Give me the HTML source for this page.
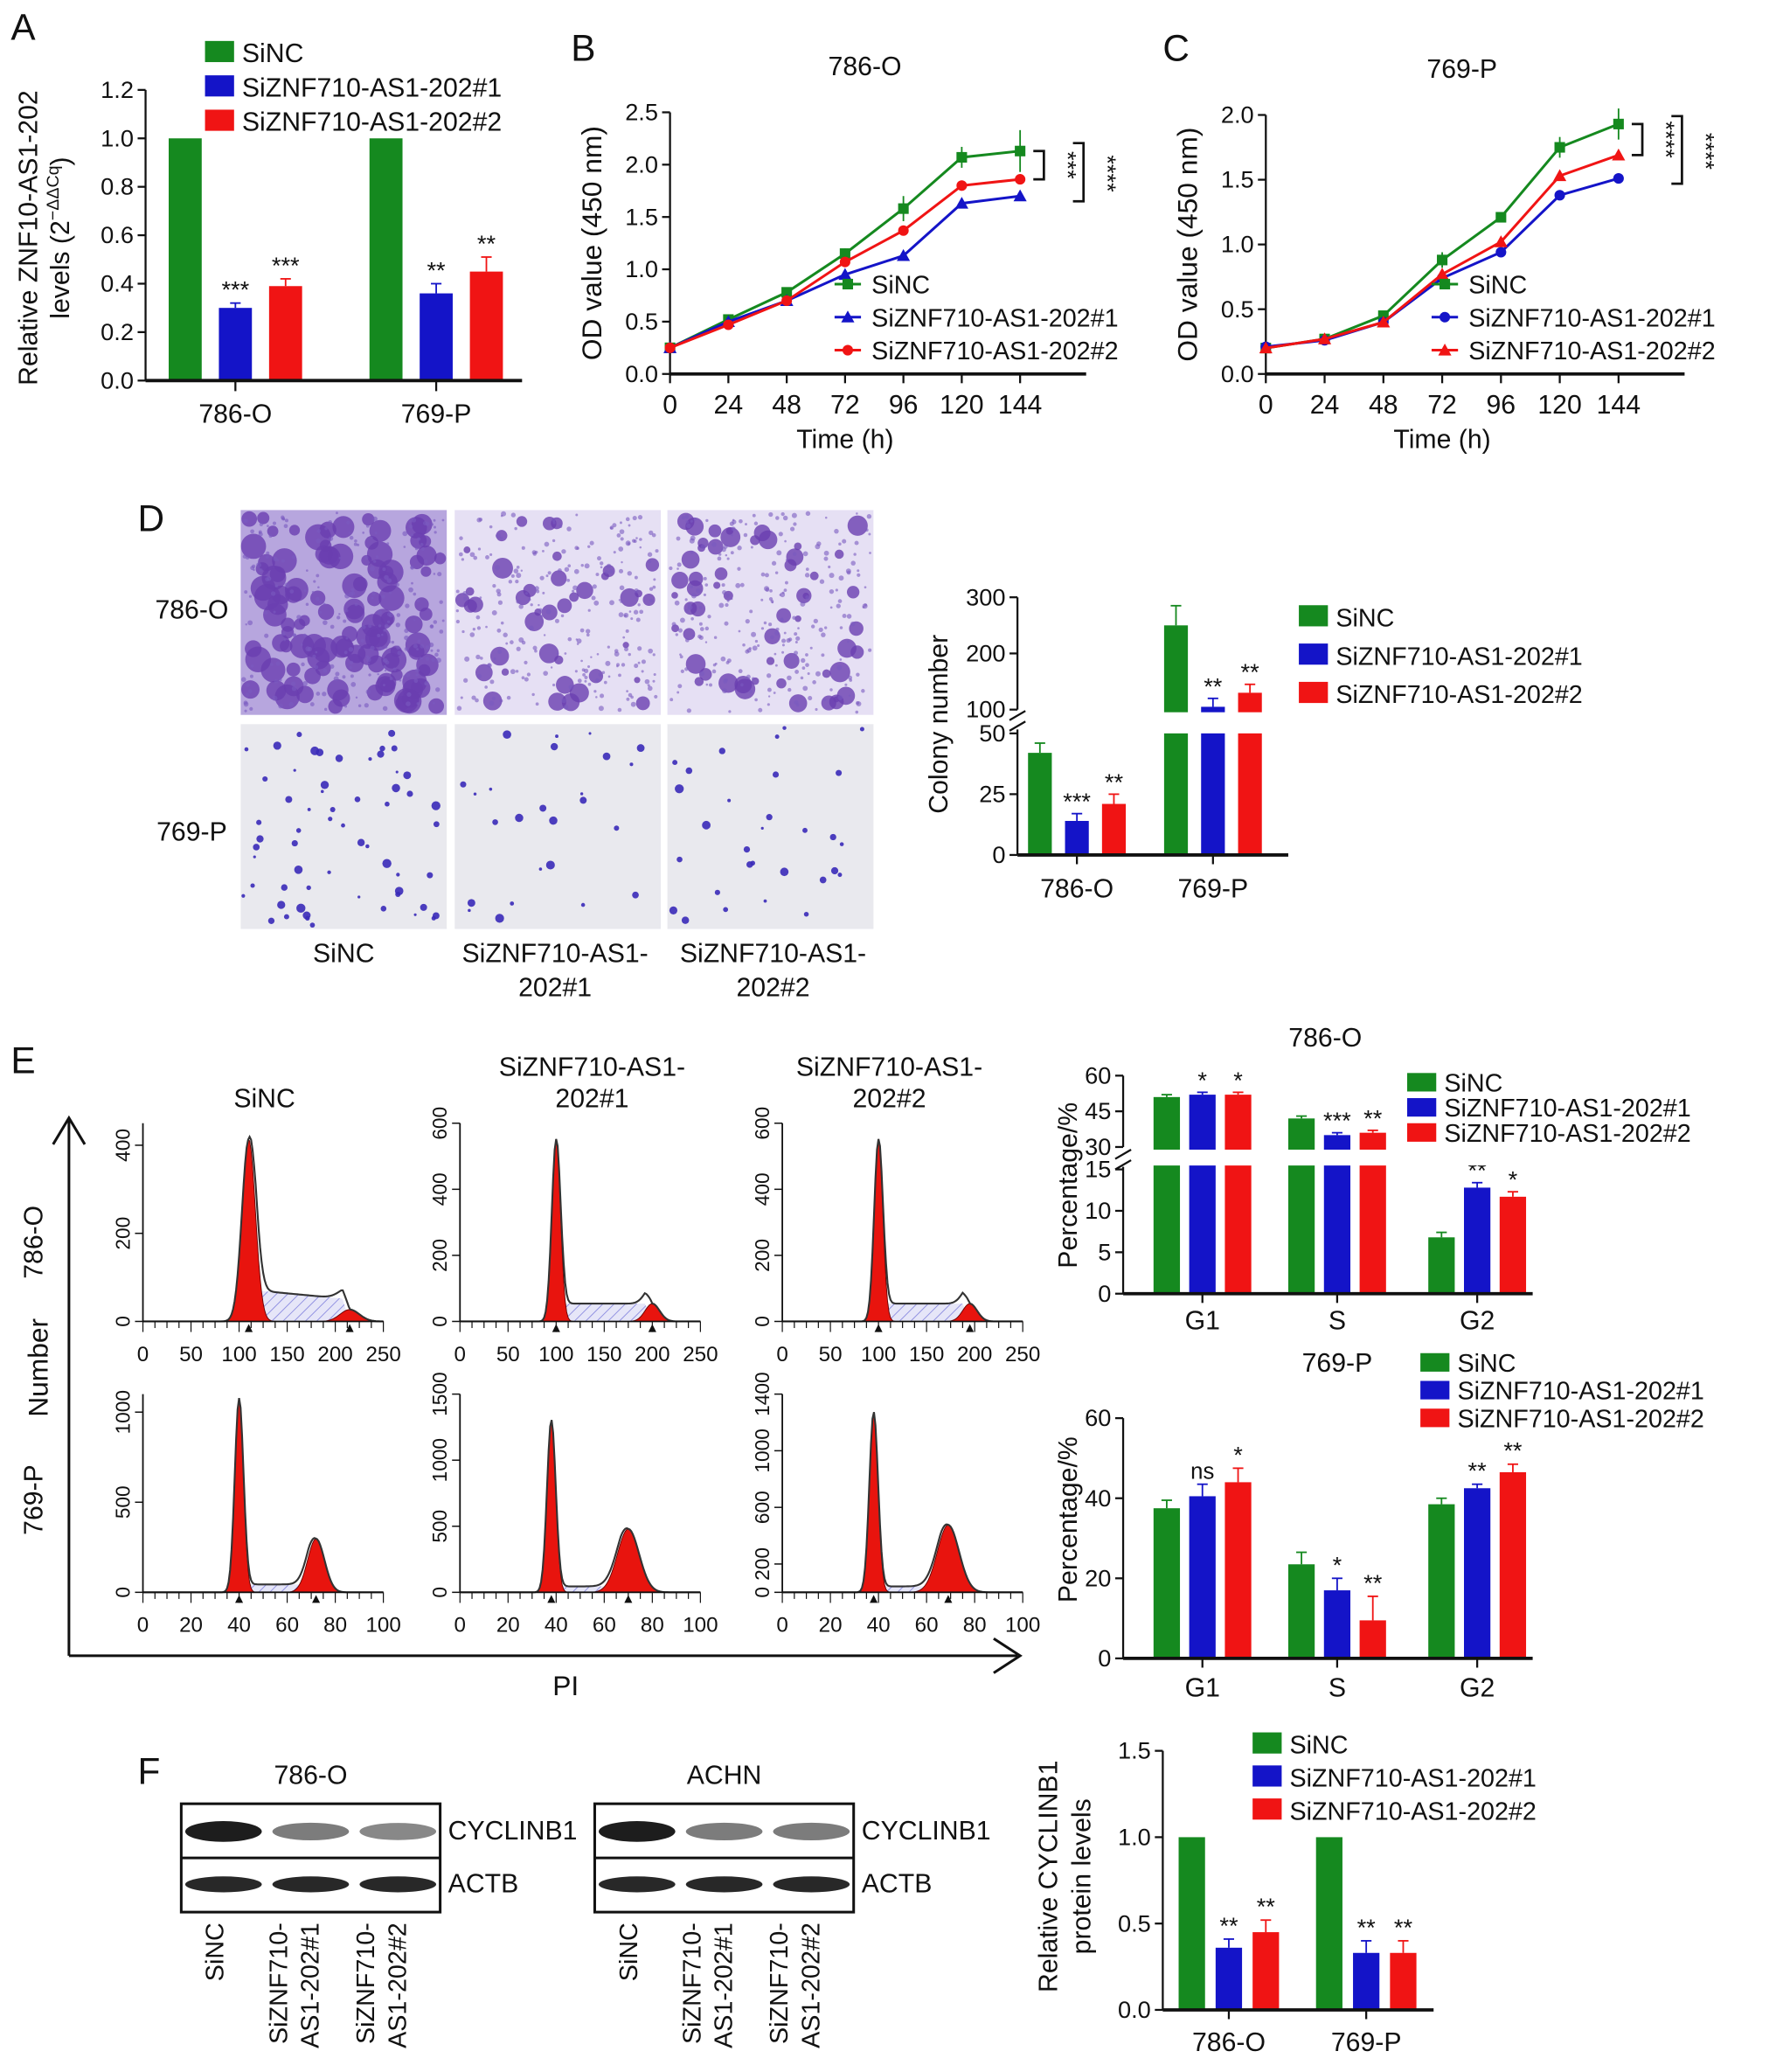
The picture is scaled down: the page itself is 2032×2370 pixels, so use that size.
<!DOCTYPE html>
<html><head><meta charset="utf-8"><style>
html,body{margin:0;padding:0;background:#fff}
svg{display:block;font-family:"Liberation Sans",Arial,sans-serif}
</style></head><body>
<svg id="fig" width="2032" height="2370" viewBox="0 0 1344 1568" xmlns="http://www.w3.org/2000/svg">
<defs>
<pattern id="hatch" width="6" height="6" patternUnits="userSpaceOnUse" patternTransform="rotate(45)"><rect width="6" height="6" fill="#e6e6f8"/><line x1="0" y1="0" x2="0" y2="6" stroke="#8c8ce0" stroke-width="1.2"/></pattern>
</defs>
<g id="root"></g>
</svg>
<script>
// ---------- data ----------
const groupsA=["786-O","769-P"];
const siNC_A=[1.0,1.0], si1_A=[0.30,0.36], si2_A=[0.39,0.45];
const errA1=[0.02,0.04], errA2=[0.03,0.06];
const starsA1=["***","**"], starsA2=["***","**"];
const times=[0,24,48,72,96,120,144];
const B_nc=[0.25,0.52,0.78,1.15,1.58,2.07,2.13];
const B_s1=[0.25,0.50,0.70,0.95,1.13,1.63,1.70];
const B_s2=[0.25,0.47,0.70,1.07,1.37,1.80,1.86];
const B_err=[0.02,0.03,0.03,0.05,0.12,0.1,0.2];
const C_nc=[0.20,0.27,0.45,0.88,1.21,1.75,1.93];
const C_s1=[0.21,0.26,0.40,0.74,0.94,1.38,1.51];
const C_s2=[0.20,0.27,0.40,0.77,1.02,1.53,1.69];
const C_err=[0.02,0.02,0.02,0.06,0.03,0.08,0.12];
const D_nc=[42,250], D_s1=[14,105], D_s2=[21,130];
const D_err1=[4,35], D_err2=[3,15];
const starsD1=["***","**"], starsD2=["**","**"];
const phases=["G1","S","G2"];
const E1_nc=[51,42,6.8], E1_s1=[52,35,12.8], E1_s2=[52,36,11.7];
const E1_stars1=["*","***","**"], E1_stars2=["*","**","*"];
const E2_nc=[37.5,23.5,38.5], E2_s1=[40.5,17,42.5], E2_s2=[44,9.5,46.5];
const E2_err=[2,3,1.5];
const E2_stars1=["ns","*","**"], E2_stars2=["*","**","**"];
const F_nc=[1,1], F_s1=[0.36,0.33], F_s2=[0.45,0.33];
const F_err=[0.05,0.07];
const F_stars1=["**","**"], F_stars2=["**","**"];
const G="#15891f", BL="#1414c8", R="#f01414";
// ---------- helpers ----------
const NS="http://www.w3.org/2000/svg";
const root=document.getElementById('root');
function el(tag,attrs,parent,text){const e=document.createElementNS(NS,tag);for(const k in attrs)e.setAttribute(k,attrs[k]);if(text!==undefined)e.textContent=text;(parent||root).appendChild(e);return e;}
function txt(x,y,s,size,anchor,parent,rot,name){const t=el('text',{x:x,y:y,'font-size':size,'text-anchor':anchor||'middle','fill':'#111'},parent,s);


if(rot)t.setAttribute('transform','rotate('+rot+' '+x+' '+y+')');return t;}
function line(x1,y1,x2,y2,parent,w,c){return el('line',{x1:x1,y1:y1,x2:x2,y2:y2,stroke:c||'#111','stroke-width':w||1.5},parent);}
function grp(name){const g=el('g',{});return g;}
function legend(g,x,y,dy,sz,labels,colors,w,h){labels.forEach((l,i)=>{const r=el('rect',{x:x,y:y+i*dy-h+2,width:w,height:h,fill:colors[i]},g);


txt(x+w+6,y+i*dy+2,l,sz,'start',g,0,'legend-entry');});}
const LBL=["SiNC","SiZNF710-AS1-202#1","SiZNF710-AS1-202#2"];
[["A",8,30],["B",432,46],["C",880,46],["D",104,402],["E",8,812],["F",104,1350]].forEach(p=>txt(p[1],p[2],p[0],28,'start',root,0,'panel-letter-'+p[0].toLowerCase()));

function barChart(g,o){
  o.series.forEach((s,si)=>{s.forEach((v,gi)=>{
    const cx=o.centers[gi]+(si-1)*o.gap;
    const y=o.ys(v),y0=o.ys(0);
    const r=el('rect',{x:cx-o.bw/2,y:y,width:o.bw,height:y0-y,fill:o.colors[si]},g);
    
    
    const e=o.errs&&o.errs[si]?o.errs[si][gi]:0;
    if(e){const ye=o.ys(v+e);line(cx,y,cx,ye,g,1.2,o.colors[si]);line(cx-4,ye,cx+4,ye,g,1.2,o.colors[si]);}
    if(o.stars&&o.stars[si]){const st=o.stars[si][gi];if(st)txt(cx,o.ys(v+e)-4,st,st==='ns'?17:18,'middle',g,0,'significance');}
  });});
}
function yAxis(g,x,ticks,ys,fmt,sz){line(x,ys(ticks[ticks.length-1]),x,ys(ticks[0]),g);ticks.forEach(t=>{line(x-6,ys(t),x,ys(t),g);txt(x-9,ys(t)+6,fmt(t),sz||18,'end',g,0,'y-tick-label');});}

// ---------- Panel A ----------
(function(){const g=grp('panel-a-chart');
const ys=v=>288-v*183.3;
yAxis(g,110,[0,0.2,0.4,0.6,0.8,1.0,1.2],ys,t=>t.toFixed(1),18);
const cents=[178,330];
barChart(g,{cats:groupsA,ys:ys,centers:cents,series:[siNC_A,si1_A,si2_A],colors:[G,BL,R],bw:25,gap:38,errs:[null,errA1,errA2],stars:[null,starsA1,starsA2]});
line(110,288,395,288,g,2.5);
groupsA.forEach((c,i)=>{line(cents[i],288,cents[i],296,g);txt(cents[i],320,c,20,'middle',g,0,'x-tick-label');});
txt(28,180,"Relative ZNF10-AS1-202",20,'middle',g,-90,'y-axis-title');
const t2=el('text',{x:52,y:180,'font-size':20,'text-anchor':'middle',transform:'rotate(-90 52 180)',fill:'#111'},g);

t2.innerHTML='levels (2<tspan font-size="13" dy="-8">−ΔΔCq</tspan><tspan dy="8">)</tspan>';
legend(g,155,45,26,20,LBL,[G,BL,R],22,16);
})();

// ---------- line charts ----------
function lineChart(name,x0,xW,yTop,yBot,ymax,yticks,title,series,err,markers,order,bracket){
const g=grp(name);
const xs=t=>x0+t/144*xW, ys=v=>yBot-(v/ymax)*(yBot-yTop);
yAxis(g,x0,yticks,ys,t=>t.toFixed(1));
line(x0,yBot,x0+xW+50,yBot,g,2.5);
times.forEach(t=>{line(xs(t),yBot,xs(t),yBot+7,g);txt(xs(t),yBot+30,String(t),20,'middle',g,0,'x-tick-label');});
txt(x0+xW/2,yBot+56,"Time (h)",20,'middle',g,0,'x-axis-title');
txt(x0-52,(yTop+yBot)/2,"OD value (450 nm)",21,'middle',g,-90,'y-axis-title');
txt(x0+xW/2+15,yTop-28,title,20,'middle',g,0,'chart-title');
const cols=[G,BL,R];
series.forEach((s,si)=>{
  const pts=s.map((v,i)=>xs(times[i])+','+ys(v)).join(' ');
  const p=el('polyline',{points:pts,fill:'none',stroke:cols[si],'stroke-width':2},g);
  
  s.forEach((v,i)=>{const x=xs(times[i]),y=ys(v);
    if(si===0){line(x,ys(v+err[i]),x,ys(v-err[i]),g,1.2,cols[si]);}
    let m;
    if(markers[si]==='s')m=el('rect',{x:x-4,y:y-4,width:8,height:8,fill:cols[si]},g);
    else if(markers[si]==='c')m=el('circle',{cx:x,cy:y,r:4,fill:cols[si]},g);
    else m=el('polygon',{points:(x)+','+(y-5)+' '+(x-5)+','+(y+4)+' '+(x+5)+','+(y+4),fill:cols[si]},g);
    });
});
order.forEach((o,i)=>{const lx=x0+xW*0.47,ly=yBot-68+i*25;line(lx,ly,lx+20,ly,g,2,cols[o]);
 const mm=markers[o];if(mm==='s')el('rect',{x:lx+6,y:ly-4,width:8,height:8,fill:cols[o]},g);else if(mm==='c')el('circle',{cx:lx+10,cy:ly,r:4,fill:cols[o]},g);else el('polygon',{points:(lx+10)+','+(ly-5)+' '+(lx+5)+','+(ly+4)+' '+(lx+15)+','+(ly+4),fill:cols[o]},g);
 txt(lx+28,ly+7,LBL[o],19,'start',g,0,'legend-entry');});
const bx=x0+xW+10;
const a=ys(series[0][6]),b=ys(series[2][6]),c=ys(series[1][6]);
el('path',{d:`M${bx} ${a} h8 V${b} h-8`,fill:'none',stroke:'#111','stroke-width':1.8},g);
el('path',{d:`M${bx+30} ${a-6} h8 V${c+4} h-8`,fill:'none',stroke:'#111','stroke-width':1.8},g);
txt(bx+20,(a+b)/2,bracket[0],18,'middle',g,90,'significance');
txt(bx+50,(a+c)/2,bracket[1],18,'middle',g,90,'significance');
}
lineChart('panel-b-chart',507,265,85,283,2.5,[0,0.5,1,1.5,2,2.5],"786-O",[B_nc,B_s1,B_s2],B_err,['s','t','c'],[0,1,2],["***","****"]);
lineChart('panel-c-chart',958,267,87,283,2.0,[0,0.5,1,1.5,2],"769-P",[C_nc,C_s1,C_s2],C_err,['s','c','t'],[0,1,2],["****","****"]);

// ---------- Panel D images ----------
(function(){const g=grp('panel-d-images');
let seed=7;const rnd=()=>{seed=(seed*16807)%2147483647;return seed/2147483647;};
const xs=[182,344,505],ys=[386,548];
const dens=[[110,40,55],[60,25,30]];
ys.forEach((y,ri)=>xs.forEach((x,ci)=>{
  const bg=ri===0?(ci===0?'#b7a6de':'#e6e0f4'):'#e9e9ee';
  const r=el('rect',{x:x,y:y,width:156,height:155,fill:bg},g);
  
  const n=dens[ri][ci];
  for(let k=0;k<n;k++){const rr=ri===0?(ci===0?4+rnd()*6:2+rnd()*6):1+rnd()*2.5;
    const cx=x+rr+rnd()*(156-2*rr),cy=y+rr+rnd()*(155-2*rr);
    el('circle',{cx:cx,cy:cy,r:rr,fill:ri===0?'#6a3fb0':'#3a2ab8','fill-opacity':ri===0?0.8:0.9},g);}
  if(ri===0)for(let k=0;k<250;k++)el('circle',{cx:x+2+rnd()*152,cy:y+2+rnd()*151,r:0.8+rnd()*1.2,fill:'#7a5ac0','fill-opacity':0.6},g);
}));
txt(145,468,"786-O",20,'middle',g,0,'row-label');txt(145,636,"769-P",20,'middle',g,0,'row-label');
txt(260,728,"SiNC",20,'middle',g,0,'col-label');
txt(420,728,"SiZNF710-AS1-",20,'middle',g,0,'col-label');txt(420,754,"202#1",20,'middle',g,0,'col-label');
txt(585,728,"SiZNF710-AS1-",20,'middle',g,0,'col-label');txt(585,754,"202#2",20,'middle',g,0,'col-label');
})();
// ---------- Panel D chart ----------
(function(){const g=grp('panel-d-chart');
const ys=v=>v<=50?647-v*1.84:537-(v-100)*0.425;
line(770,452,770,537,g);line(770,552,770,647,g);
[[100,'100'],[200,'200'],[300,'300']].forEach(t=>{line(764,ys(t[0]),770,ys(t[0]),g);txt(761,ys(t[0])+6,t[1],18,'end',g,0,'y-tick-label');});
[0,25,50].forEach(t=>{line(764,ys(t),770,ys(t),g);txt(761,ys(t)+6,String(t),18,'end',g,0,'y-tick-label');});
const cents=[815,918];
[D_nc,D_s1,D_s2].forEach((s,si)=>s.forEach((v,gi)=>{if(v>50){const cx=cents[gi]+(si-1)*28;
 const r=el('rect',{x:cx-9,y:ys(v),width:18,height:541-ys(v),fill:[G,BL,R][si]},g);}}));
barChart(g,{cats:groupsA,ys:v=>v>50?ys(50):ys(v),centers:cents,series:[D_nc.map(v=>Math.min(v,50)),D_s1.map(v=>Math.min(v,50)),D_s2.map(v=>Math.min(v,50))],colors:[G,BL,R],bw:18,gap:28,errs:null,stars:null});
[[D_nc,[4,35],null],[D_s1,D_err2,starsD1],[D_s2,D_err2.map((e,i)=>i?15:4),starsD2]].forEach((d,si)=>d[0].forEach((v,gi)=>{const cx=cents[gi]+(si-1)*28,e=d[1][gi];
 const c=[G,BL,R][si];line(cx,ys(v),cx,ys(v+e),g,1.2,c);line(cx-4,ys(v+e),cx+4,ys(v+e),g,1.2,c);
 if(d[2])txt(cx,ys(v+e)-3,d[2][gi],18,'middle',g,0,'significance');}));
el('rect',{x:760,y:539,width:210,height:12,fill:'#fff'},g);
line(764,545,776,538,g);line(764,553,776,546,g);
line(770,647,975,647,g,2.5);
groupsA.forEach((c,i)=>{line(cents[i],647,cents[i],654,g);txt(cents[i],679,c,20,'middle',g,0,'x-tick-label');});
txt(717,548,"Colony number",20,'middle',g,-90,'y-axis-title');
legend(g,983,472,29,19,LBL,[G,BL,R],22,16);
})();

// ---------- Panel E histograms ----------
(function(){const g=grp('panel-e-histograms');
line(52,1253,770,1253,g,2);el('path',{d:'M752 1240 L772 1253 L752 1266',fill:'none',stroke:'#111','stroke-width':2},g);
line(52,1253,52,848,g,2);el('path',{d:'M40 866 L52 846 L64 866',fill:'none',stroke:'#111','stroke-width':2},g);
txt(36,1035,"Number",21,'middle',g,-90,'axis-title');txt(428,1283,"PI",21,'middle',g,0,'axis-title');
txt(32,940,"786-O",20,'middle',g,-90,'row-label');txt(32,1135,"769-P",20,'middle',g,-90,'row-label');
txt(200,838,"SiNC",20,'middle',g,0,'col-title');
txt(448,814,"SiZNF710-AS1-",20,'middle',g,0,'col-title');txt(448,838,"202#1",20,'middle',g,0,'col-title');
txt(673,814,"SiZNF710-AS1-",20,'middle',g,0,'col-title');txt(673,838,"202#2",20,'middle',g,0,'col-title');
const cols=[108,348,592], W=182;
const params=[
 [[0.44,0.92,0.028,0.86,0.06,0.04,0.16],[0.40,0.92,0.018,0.80,0.09,0.03,0.09],[0.40,0.92,0.018,0.78,0.09,0.03,0.09]],
 [[0.40,0.98,0.018,0.72,0.27,0.035,0.04],[0.38,0.87,0.018,0.70,0.32,0.045,0.03],[0.38,0.91,0.018,0.69,0.34,0.045,0.03]]];
const yt=[[[0,200,400],[0,200,400,600],[0,200,400,600]],[[0,500,1000],[0,500,1000,1500],[0,200,600,1000,1400]]];
const ymx=[[450,600,600],[1100,1500,1400]];
const xt=[[0,50,100,150,200,250],[0,20,40,60,80,100]];
[1000,1205].forEach((base,ri)=>cols.forEach((x0,ci)=>{
  const H=150,p=params[ri][ci];
  const X=f=>x0+f*W;
  const gs=(f,c,h,w)=>h*Math.exp(-((f-c)*(f-c))/(2*w*w));
  let top='',g1='',g2='',sp='';
  const N=160;
  for(let i=0;i<=N;i++){const f=i/N;
   const a=gs(f,p[0],p[1],p[2]),b=gs(f,p[3],p[4],p[5]);
   const s=(f>p[0]&&f<p[3])?p[6]*(ri===0&&ci===0?(1-0.3*(f-p[0])/(p[3]-p[0])):1):0;
   const sSm=s*Math.min(1,(f-p[0])/0.03)*Math.min(1,(p[3]-f)/0.03);
   top+=(i?'L':'M')+X(f)+' '+(base-(a+b+Math.max(0,sSm))*H);
   g1+=(i?'L':'M')+X(f)+' '+(base-a*H);g2+=(i?'L':'M')+X(f)+' '+(base-b*H);
   sp+=(i?'L':'M')+X(f)+' '+(base-Math.max(0,sSm)*H);}
  el('path',{d:sp+`L${X(1)} ${base} L${X(0)} ${base}Z`,fill:'url(#hatch)'},g);
  const a1=el('path',{d:g1+`L${X(1)} ${base} L${X(0)} ${base}Z`,fill:'#e8140e',stroke:'#600','stroke-width':0.6},g);
  
  const a2=el('path',{d:g2+`L${X(1)} ${base} L${X(0)} ${base}Z`,fill:'#e8140e',stroke:'#600','stroke-width':0.6},g);
  
  el('path',{d:top,fill:'none',stroke:'#333','stroke-width':1.4},g);
  line(x0,base,x0+W,base,g,1.2);line(x0,base,x0,base-H,g,1.2);
  const ym=ymx[ri][ci];
  yt[ri][ci].forEach(t=>{const y=base-t/ym*H;line(x0-6,y,x0,y,g,1);txt(x0-10,y,String(t),15,'middle',g,-90,'y-tick-label');});
  for(let k=0;k<=20;k++){const xx=x0+k/20*W;line(xx,base,xx,base+(k%4?5:8),g,0.8);}
  xt[ri].forEach((t,i)=>txt(x0+i/(xt[ri].length-1)*W,base+30,String(t),16,'middle',g,0,'x-tick-label'));
  el('polygon',{points:`${X(p[0])},${base+2} ${X(p[0])-3},${base+8} ${X(p[0])+3},${base+8}`,fill:'#111'},g);
  el('polygon',{points:`${X(p[3])},${base+2} ${X(p[3])-3},${base+8} ${X(p[3])+3},${base+8}`,fill:'#111'},g);
}));
})();

// ---------- Panel E charts ----------
(function(){const g=grp('panel-e-786o-chart');
const ys=v=>v<=15?979-v*6.27:868-(v-30)*1.8;
line(850,814,850,868,g);line(850,883,850,979,g);
[30,45,60].forEach(t=>{line(844,ys(t),850,ys(t),g);txt(841,ys(t)+6,String(t),18,'end',g,0,'y-tick-label');});
[0,5,10,15].forEach(t=>{line(844,ys(t),850,ys(t),g);txt(841,ys(t)+6,String(t),18,'end',g,0,'y-tick-label');});
const cents=[910,1012,1118];
[E1_nc,E1_s1,E1_s2].forEach((s,si)=>s.forEach((v,gi)=>{const cx=cents[gi]+(si-1)*27,c=[G,BL,R][si];
 const r=el('rect',{x:cx-10,y:ys(v),width:20,height:979-ys(v),fill:c},g);
 const e=v>30?1:0.6;line(cx,ys(v),cx,ys(v+e),g,1.2,c);line(cx-4,ys(v+e),cx+4,ys(v+e),g,1.2,c);
 if(si>0)txt(cx,ys(v+e)-3,[E1_stars1,E1_stars2][si-1][gi],18,'middle',g,0,'significance');}));
el('rect',{x:840,y:870,width:330,height:12,fill:'#fff'},g);
line(844,877,856,870,g);line(844,885,856,878,g);
line(850,979,1160,979,g,2.5);
phases.forEach((c,i)=>{line(cents[i],979,cents[i],986,g);txt(cents[i],1006,c,20,'middle',g,0,'x-tick-label');});
txt(1003,792,"786-O",20,'middle',g,0,'chart-title');
txt(815,897,"Percentage/%",20,'middle',g,-90,'y-axis-title');
legend(g,1065,824,19,19,LBL,[G,BL,R],22,14);
})();
(function(){const g=grp('panel-e-769p-chart');
const ys=v=>1255-v*3.03;
yAxis(g,850,[0,20,40,60],ys,t=>String(t));
const cents=[910,1012,1118];
barChart(g,{cats:phases,ys:ys,centers:cents,series:[E2_nc,E2_s1,E2_s2],colors:[G,BL,R],bw:20,gap:27,errs:[E2_err,[3,3,1],[3.5,6,2]],stars:[null,E2_stars1,E2_stars2]});
line(850,1255,1160,1255,g,2.5);
phases.forEach((c,i)=>{line(cents[i],1255,cents[i],1262,g);txt(cents[i],1284,c,20,'middle',g,0,'x-tick-label');});
txt(1012,1038,"769-P",20,'middle',g,0,'chart-title');
txt(815,1150,"Percentage/%",20,'middle',g,-90,'y-axis-title');
legend(g,1075,1036,21,19,LBL,[G,BL,R],22,14);
})();

// ---------- Panel F blots ----------
(function(){const g=grp('panel-f-blots');
function blot(x,title,ints){
 el('rect',{x:x,y:1365,width:196,height:82,fill:'#fff',stroke:'#111','stroke-width':2},g);
 line(x,1406,x+196,1406,g,2);
 txt(x+98,1350,title,20,'middle',g,0,'blot-title');
 [0,1,2].forEach(i=>{const cx=x+32+i*66;
  const b=el('ellipse',{cx:cx,cy:1386,rx:29,ry:5+ints[i]*3,fill:'#111','fill-opacity':ints[i]},g);
  const a=el('ellipse',{cx:cx,cy:1426,rx:29,ry:6,fill:'#111','fill-opacity':0.9},g);
 });
 txt(x+202,1392,"CYCLINB1",20,'start',g,0,'protein-label');txt(x+202,1432,"ACTB",20,'start',g,0,'protein-label');
 const names=[["SiNC"],["SiZNF710-","AS1-202#1"],["SiZNF710-","AS1-202#2"]];
 names.forEach((n,i)=>{const cx=x+32+i*66;n.forEach((s,k)=>{const xx=cx-6+k*24-(n.length-1)*12+ (n.length>1?0:6);txt(xx,1455,s,19,'end',g,-90,'lane-label');});});
}
blot(137,"786-O",[0.95,0.55,0.5]);
blot(450,"ACHN",[0.95,0.55,0.55]);
})();
// ---------- Panel F chart ----------
(function(){const g=grp('panel-f-chart');
const ys=v=>1521-v*130.7;
yAxis(g,880,[0,0.5,1.0,1.5],ys,t=>t.toFixed(1));
const cents=[930,1034];
barChart(g,{cats:groupsA,ys:ys,centers:cents,series:[F_nc,F_s1,F_s2],colors:[G,BL,R],bw:20,gap:28,errs:[null,F_err,[0.07,0.07]],stars:[null,F_stars1,F_stars2]});
line(880,1521,1085,1521,g,2.5);
groupsA.forEach((c,i)=>{line(cents[i],1521,cents[i],1528,g);txt(cents[i],1552,c,20,'middle',g,0,'x-tick-label');});
txt(800,1420,"Relative CYCLINB1",20,'middle',g,-90,'y-axis-title');
txt(825,1420,"protein levels",20,'middle',g,-90,'y-axis-title');
legend(g,948,1325,25,19,LBL,[G,BL,R],22,16);
})();
</script>
</body></html>
